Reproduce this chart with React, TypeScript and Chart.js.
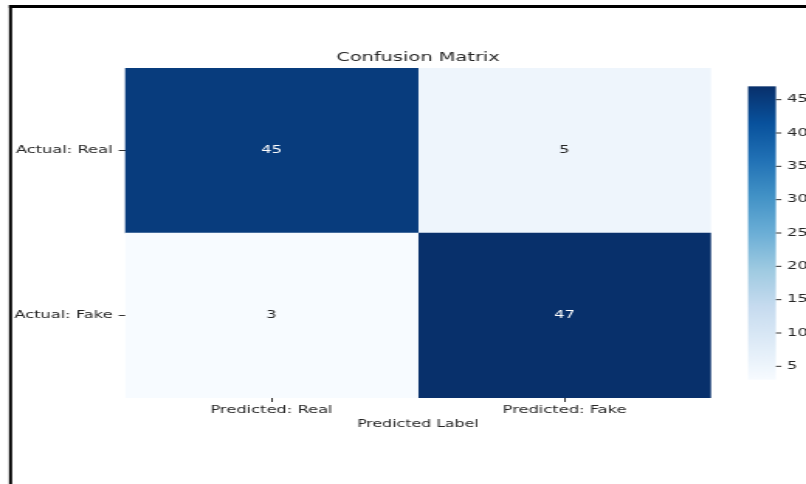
import React, { useEffect, useRef } from 'react';
import { Chart, registerables } from 'chart.js';

Chart.register(...registerables);

// ---- data ----
const TITLE = 'Confusion Matrix';
const X_TITLE = 'Predicted Label';
const PREDICTED_LABELS = ['Predicted: Real', 'Predicted: Fake'];
const ACTUAL_LABELS = ['Actual: Real', 'Actual: Fake'];
// counts per predicted column, one value per actual row
const PREDICTED_REAL_COUNTS = [45, 3];
const PREDICTED_FAKE_COUNTS = [5, 47];
const COLORBAR_TICKS = [5, 10, 15, 20, 25, 30, 35, 40, 45];

const COLUMNS = [PREDICTED_REAL_COUNTS, PREDICTED_FAKE_COUNTS];
const ALL_COUNTS = [...PREDICTED_REAL_COUNTS, ...PREDICTED_FAKE_COUNTS];
const VMIN = Math.min(...ALL_COUNTS);
const VMAX = Math.max(...ALL_COUNTS);

// ---- style ----
const CANVAS_W = 520;
const CANVAS_H = 484;
const DISPLAY_W = 806;
const FONT = '"DejaVu Sans", sans-serif';
const TEXT = '#262626';
const TICK = '#333333';
const BLUES = ['#f7fbff', '#deebf7', '#c6dbef', '#9ecae1', '#6baed6', '#4292c6', '#2171b5', '#08519c', '#08306b'];

function hexToRgb(h: string) {
  const n = parseInt(h.slice(1), 16);
  return [(n >> 16) & 255, (n >> 8) & 255, n & 255];
}

function blues(t: number) {
  const c = Math.max(0, Math.min(1, t)) * (BLUES.length - 1);
  const i = Math.min(BLUES.length - 2, Math.floor(c));
  const f = c - i;
  const a = hexToRgb(BLUES[i]);
  const b = hexToRgb(BLUES[i + 1]);
  const m = a.map((v, k) => Math.round(v + (b[k] - v) * f));
  return `rgb(${m[0]},${m[1]},${m[2]})`;
}

const norm = (v: number) => (v - VMIN) / (VMAX - VMIN);

const decorPlugin = {
  id: 'heatmapDecor',
  afterDatasetsDraw(chart: any) {
    const ctx = chart.ctx;
    ctx.save();
    // cell annotations
    ctx.font = `10.5px ${FONT}`;
    ctx.textAlign = 'center';
    ctx.textBaseline = 'middle';
    COLUMNS.forEach((col, j) => {
      const meta = chart.getDatasetMeta(j);
      meta.data.forEach((el: any, i: number) => {
        const { x, y } = el.getCenterPoint();
        const v = col[i];
        ctx.fillStyle = norm(v) > 0.5 ? '#ffffff' : TEXT;
        ctx.fillText(String(v), x, y);
      });
    });
    // colorbar
    const cb = chart.scales.cb;
    const x0 = cb.left + 23.9;
    const w = 18;
    const yTop = cb.getPixelForValue(VMAX);
    const yBot = cb.getPixelForValue(VMIN);
    const g = ctx.createLinearGradient(0, yBot, 0, yTop);
    BLUES.forEach((c, k) => g.addColorStop(k / (BLUES.length - 1), c));
    ctx.fillStyle = g;
    ctx.fillRect(x0, yTop, w, yBot - yTop);
    ctx.strokeStyle = TICK;
    ctx.lineWidth = 1;
    cb.ticks.forEach((t: any) => {
      const y = cb.getPixelForValue(t.value);
      ctx.beginPath();
      ctx.moveTo(x0 + w, y);
      ctx.lineTo(x0 + w + 3.5, y);
      ctx.stroke();
    });
    // frame
    ctx.fillStyle = '#000000';
    ctx.fillRect(5.8, 5, 2, CANVAS_H);
    ctx.fillRect(5.8, 5, CANVAS_W, 3);
    ctx.restore();
  },
};

export default function App() {
  const ref = useRef<HTMLCanvasElement | null>(null);

  useEffect(() => {
    if (!ref.current) return;
    const tickFont = { family: FONT, size: 10.5 };
    const chart = new Chart(ref.current, {
      type: 'bar',
      data: {
        labels: ACTUAL_LABELS,
        datasets: COLUMNS.map((col, j) => ({
          label: PREDICTED_LABELS[j],
          data: col.map(() => [j, j + 1]),
          backgroundColor: col.map((v) => blues(norm(v))),
          borderWidth: 0,
          grouped: false,
          barPercentage: 1,
          categoryPercentage: 1,
        })),
      } as any,
      options: {
        indexAxis: 'y',
        responsive: false,
        animation: false,
        devicePixelRatio: 1,
        layout: { padding: { left: 0, right: 0, top: 0, bottom: 46 } },
        plugins: {
          legend: { display: false },
          tooltip: { enabled: false },
          title: {
            display: true,
            text: TITLE,
            fullSize: false,
            color: TEXT,
            font: { family: FONT, size: 12.5, weight: 'normal' },
            padding: { top: 50.5, bottom: 2.5 },
          },
        },
        scales: {
          x: {
            type: 'linear',
            min: 0,
            max: 2,
            afterBuildTicks: (s: any) => {
              s.ticks = PREDICTED_LABELS.map((_, j) => ({ value: j + 0.5 }));
            },
            ticks: {
              callback: (_v: any, i: number) => PREDICTED_LABELS[i],
              autoSkip: false,
              maxRotation: 0,
              padding: 1.7,
              color: TEXT,
              font: tickFont,
            },
            grid: { drawOnChartArea: false, tickLength: 4, color: TICK },
            border: { display: false },
            title: {
              display: true,
              text: X_TITLE,
              color: TEXT,
              font: { family: FONT, size: 10.2 },
              padding: { top: 0, bottom: 7.9 },
            },
            afterFit: (s: any) => {
              s.height = 40;
            },
          },
          y: {
            type: 'category',
            offset: true,
            grid: { offset: false, drawOnChartArea: false, tickLength: 4, color: TICK },
            border: { display: false },
            ticks: { padding: 4, color: TEXT, font: tickFont },
            afterFit: (s: any) => {
              s.width = 80.6;
            },
          },
          cb: {
            type: 'linear',
            position: 'right',
            min: VMIN,
            max: VMAX,
            afterBuildTicks: (s: any) => {
              s.ticks = COLORBAR_TICKS.map((v) => ({ value: v }));
            },
            grid: { display: false, drawTicks: false },
            border: { display: false },
            ticks: { padding: 49, color: TEXT, font: tickFont },
            afterFit: (s: any) => {
              s.width = 61.3;
            },
          },
        },
      } as any,
      plugins: [decorPlugin],
    });
    return () => chart.destroy();
  }, []);

  return (
    <div style={{ position: 'absolute', left: 0, top: 0, width: DISPLAY_W, height: CANVAS_H, background: '#ffffff' }}>
      <canvas
        ref={ref}
        width={CANVAS_W}
        height={CANVAS_H}
        style={{ width: `${DISPLAY_W}px`, height: `${CANVAS_H}px`, display: 'block' }}
      />
    </div>
  );
}
